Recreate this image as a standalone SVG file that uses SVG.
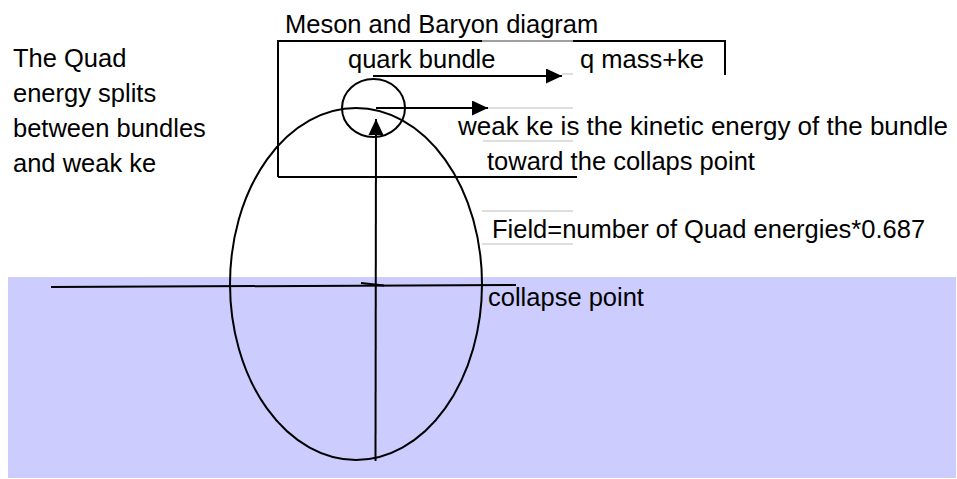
<svg xmlns="http://www.w3.org/2000/svg" width="957" height="479" viewBox="0 0 957 479">
<style>
  text { font-family: "Liberation Sans", Arial, sans-serif; font-size: 25.5px; fill: #000; }
  .ln { stroke: #000; stroke-width: 2; fill: none; }
  .frame { stroke: #d4d4d4; stroke-width: 1.6; fill: none; }
</style>
<defs>
  <marker id="ah" markerUnits="userSpaceOnUse" markerWidth="16" markerHeight="15" refX="16" refY="7.5" orient="auto">
    <path d="M0,0 L16,7.5 L0,15 Z" fill="#000"/>
  </marker>
</defs>
<rect id="field-region" x="8" y="277" width="948" height="201" fill="#ccccff"/>
<g id="box">
  <path class="ln" d="M278,177 L278,41 L725,41 L725,75 M278,177 L577,177"/>
</g>
<g id="frames">
  <path class="frame" d="M482,41 H573 M562,74 H573 M488,108 H573 M483,141 H573 M482,211 H573 M482,244 H573"/>
</g>
<g id="field-ellipse">
  <ellipse class="ln" cx="356" cy="284" rx="126" ry="176"/>
</g>
<g id="quark-bundle-circle">
  <ellipse class="ln" cx="373.5" cy="108" rx="31.5" ry="29"/>
</g>
<g id="collapse-line">
  <path class="ln" d="M51,287 L516,285"/>
  <path class="ln" d="M361,283 L384,285.5" stroke-width="2.5"/>
</g>
<g id="connectors">
  <path class="ln" d="M375.5,461 L376,119" marker-end="url(#ah)"/>
  <path class="ln" d="M373,76 L562,76" marker-end="url(#ah)"/>
  <path class="ln" d="M376,108 L488,108" marker-end="url(#ah)"/>
</g>
<g id="title"><text x="285" y="33">Meson and Baryon diagram</text></g>
<g id="quark-bundle-label"><text x="348" y="68">quark bundle</text></g>
<g id="q-mass-label"><text x="580" y="68">q mass+ke</text></g>
<g id="quad-note">
  <text x="13" y="67">The Quad</text>
  <text x="13" y="102">energy splits</text>
  <text x="13" y="137">between bundles</text>
  <text x="13" y="172">and weak ke</text>
</g>
<g id="weak-ke-label">
  <text x="458" y="135" style="font-size:26px">weak ke is the kinetic energy of the bundle</text>
  <text x="487" y="170">toward the collaps point</text>
</g>
<g id="field-label"><text x="492" y="238">Field=number of Quad energies*0.687</text></g>
<g id="collapse-label"><text x="488" y="306">collapse point</text></g>
</svg>
